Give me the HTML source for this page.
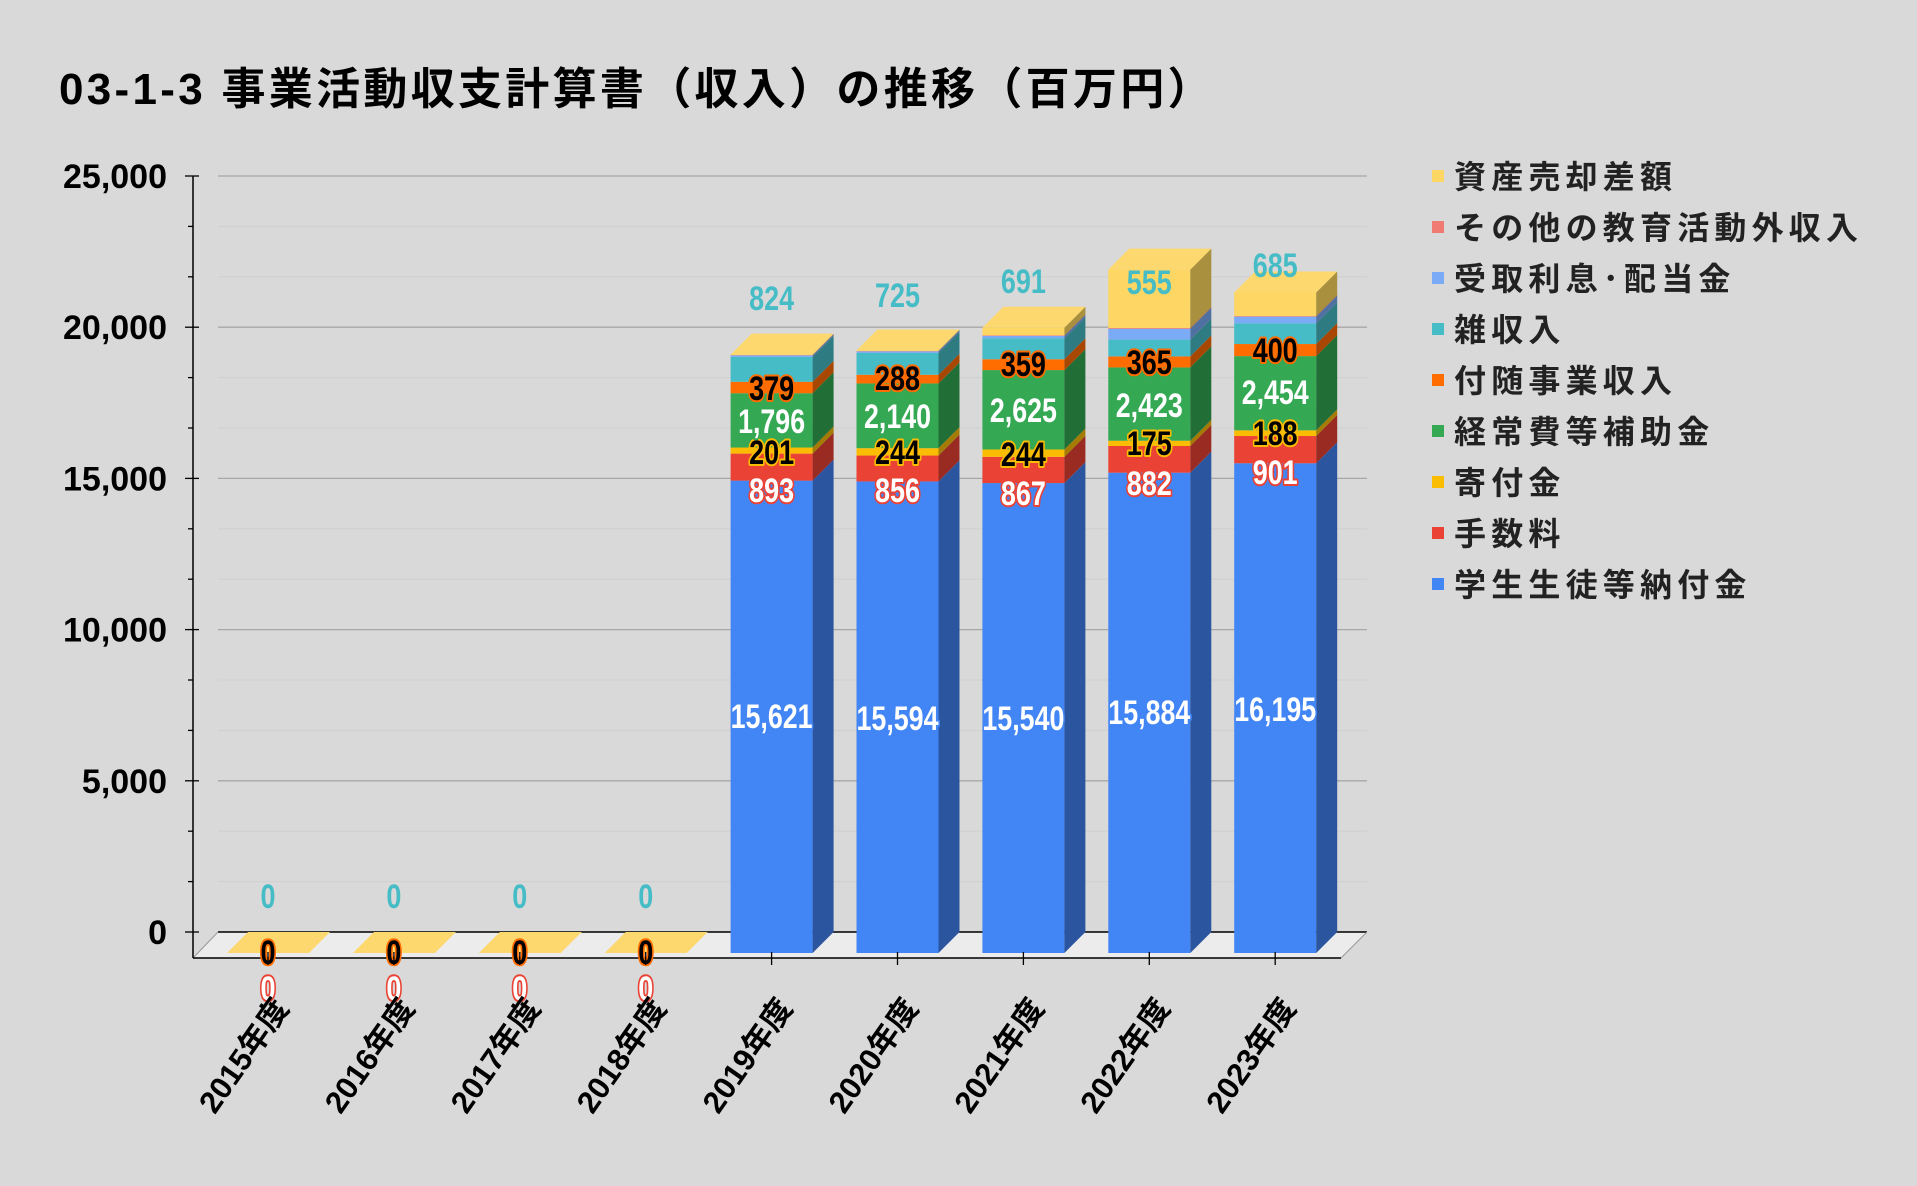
<!DOCTYPE html>
<html><head><meta charset="utf-8">
<style>
html,body{margin:0;padding:0;background:#d9d9d9;}
svg{display:block;}
text{font-family:"Liberation Sans","Noto Sans CJK JP",sans-serif;font-weight:bold;}
</style></head>
<body>
<svg id="s" width="1917" height="1186" viewBox="0 0 1917 1186" xmlns="http://www.w3.org/2000/svg">
<rect width="1917" height="1186" fill="#d9d9d9"/>
<text x="59" y="104" font-size="44" letter-spacing="3.3" fill="#000">03-1-3 事業活動収支計算書（収入）の推移（百万円）</text>
<g id="g"></g>
</svg>
<script>
const NS="http://www.w3.org/2000/svg";
const g=document.getElementById('g');
function el(t,a,txt){const e=document.createElementNS(NS,t);for(const k in a)e.setAttribute(k,a[k]);if(txt!==undefined)e.textContent=txt;g.appendChild(e);return e;}
const y0w=932, pxPer=151.2/5000;
for(let s=0;s<=15;s++){
  const v=s*5000/3;
  const y=y0w-v*pxPer; const major=(s%3===0);
  el('line',{x1:218,x2:1367,y1:y,y2:y,stroke:major?'#a8a8a8':'#cfcfcf','stroke-width':major?1.3:1});
  el('line',{x1:major?185:188,x2:major?199:193,y1:y,y2:y,stroke:'#000','stroke-width':1.3});
  if(major){el('text',{x:167,y:y+12,'font-size':34,'text-anchor':'end',fill:'#000'},Math.round(v).toLocaleString('en-US'));}
}
el('polygon',{points:'193,958 1341,958 1367,932 218,932',fill:'#ececec'});
el('line',{x1:218,x2:1367,y1:932,y2:932,stroke:'#000','stroke-width':1.5});
el('line',{x1:193,x2:218,y1:958,y2:932,stroke:'#999','stroke-width':1});
el('line',{x1:1341,x2:1367,y1:958,y2:932,stroke:'#999','stroke-width':1});
el('line',{x1:193,x2:193,y1:176,y2:958,stroke:'#000','stroke-width':1.5});
el('line',{x1:193,x2:1341,y1:958,y2:958,stroke:'#000','stroke-width':1.5});
const colors=[['#4285f4','#2c55a0'],['#ea4335','#992b22'],['#fbbc04','#a47b03'],['#34a853','#226e37'],['#ff6d01','#a84701'],['#46bdc6','#2e7c82'],['#7baaf7','#5170a2'],['#f07b72','#9c504a'],['#fdd663','#a8903e']];
const data=[
 [15621,893,201,1796,379,824,50,10,15],
 [15594,856,244,2140,288,725,50,10,15],
 [15540,867,244,2625,359,691,80,20,250],
 [15884,882,175,2423,365,555,360,25,1930],
 [16195,901,188,2454,400,685,220,20,780]];
const labY=[[716,718,718,712,709],[490,490,493,483,472],[452,452,454,443,433],[421,416,410,405,392],[388,378,364,362,350],[298,295,281,282,265]];
const lab=[{f:'#fff',s:'#4285f4'},{f:'#fff',s:'#ea4335'},{f:'#000',s:'#fbbc04'},{f:'#fff',s:'#34a853'},{f:'#000',s:'#ff6d01'},{f:'#46bdc6',s:'none'}];
const D=21, yb=953, sc=0.03024;
function cx(i){return 268+i*125.9;}
function label(x,y,t,st){
  const n=t.replace(/,/g,'').length, c=(t.match(/,/g)||[]).length;
  const a={x:x,y:y+12,'font-size':34,'text-anchor':'middle',fill:st.f,textLength:n*15+c*7,lengthAdjust:'spacingAndGlyphs'};
  if(st.s!=='none'){a.stroke=st.s;a['stroke-width']=4;a['paint-order']='stroke';a['stroke-linejoin']='round';}
  el('text',a,t);
}
for(let i=0;i<4;i++){
  const c=cx(i);
  el('polygon',{points:`${c-41},${yb} ${c+41},${yb} ${c+62},${yb-D} ${c-20},${yb-D}`,fill:'#fdd86e'});
}
for(let j=0;j<5;j++){
  const c=cx(j+4), x1=c-41, x2=c+41; let cum=0; let topY=yb;
  const d=data[j];
  for(let k=0;k<d.length;k++){
    const ya=yb-cum*sc; cum+=d[k]; const yt=yb-cum*sc; topY=yt;
    el('rect',{x:x1,y:yt,width:82,height:Math.max(ya-yt,0.01),fill:colors[k][0]});
    el('polygon',{points:`${x2},${ya} ${x2+D},${ya-D} ${x2+D},${yt-D} ${x2},${yt}`,fill:colors[k][1]});
  }
  el('polygon',{points:`${x1},${topY} ${x2},${topY} ${x2+D},${topY-D} ${x1+D},${topY-D}`,fill:'#fdd86e'});
  for(let k=0;k<6;k++) label(c,labY[k][j],d[k].toLocaleString('en-US'),lab[k]);
}
const yrs=['2015','2016','2017','2018','2019','2020','2021','2022','2023'];
for(let i=0;i<4;i++){
  const c=cx(i);
  label(c,896,'0',lab[5]);
  label(c,952,'0',{f:'#000',s:'#ff6d01'});
  label(c,988,'0',{f:'#fff',s:'#ea4335'});
}
for(let i=0;i<9;i++){
  const c=cx(i);
  el('line',{x1:c,x2:c,y1:952,y2:965,stroke:'#000','stroke-width':1.3});
  el('text',{'font-size':31,'text-anchor':'end',fill:'#000',transform:`translate(${c+22},1008) rotate(-55)`},yrs[i]+'年度');
}
const leg=['資産売却差額','その他の教育活動外収入','受取利息･配当金','雑収入','付随事業収入','経常費等補助金','寄付金','手数料','学生生徒等納付金'];
const lc=['#fdd663','#f07b72','#7baaf7','#46bdc6','#ff6d01','#34a853','#fbbc04','#ea4335','#4285f4'];
for(let i=0;i<9;i++){
  const y=176+i*51;
  el('rect',{x:1432,y:y-6,width:12,height:12,fill:lc[i]});
  el('text',{x:1454,y:y+12,'font-size':32,'letter-spacing':5.2,fill:'#222'},leg[i]);
}
</script>
</body></html>
